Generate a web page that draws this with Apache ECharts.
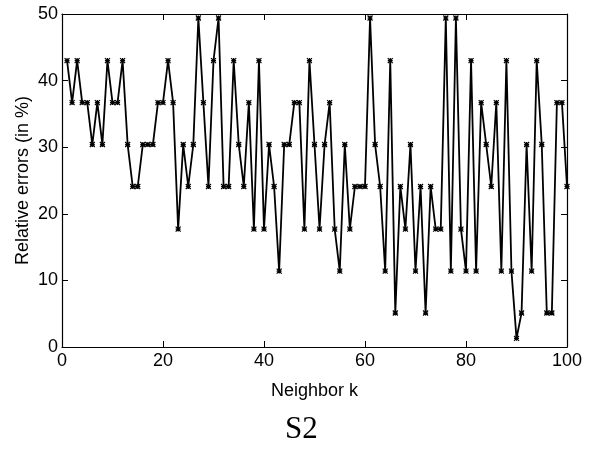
<!DOCTYPE html>
<html><head><meta charset="utf-8">
<script src="https://cdn.jsdelivr.net/npm/echarts@6/dist/echarts.min.js"></script>
<style>html,body{margin:0;padding:0;background:#fff}#c{width:595px;height:452px}</style>
</head><body><div id="c"></div>
<script>
// Neighbor index k
const neighborK = [1,2,3,4,5,6,7,8,9,10,11,12,13,14,15,16,17,18,19,20,
  21,22,23,24,25,26,27,28,29,30,31,32,33,34,35,36,37,38,39,40,
  41,42,43,44,45,46,47,48,49,50,51,52,53,54,55,56,57,58,59,60,
  61,62,63,64,65,66,67,68,69,70,71,72,73,74,75,76,77,78,79,80,
  81,82,83,84,85,86,87,88,89,90,91,92,93,94,95,96,97,98,99,100];
// Relative errors (in %)
const relErrors = [43.0,36.7,43.0,36.7,36.7,30.4,36.7,30.4,43.0,36.7,
  36.7,43.0,30.4,24.1,24.1,30.4,30.4,30.4,36.7,36.7,
  43.0,36.7,17.7,30.4,24.1,30.4,49.4,36.7,24.1,43.0,
  49.4,24.1,24.1,43.0,30.4,24.1,36.7,17.7,43.0,17.7,
  30.4,24.1,11.4,30.4,30.4,36.7,36.7,17.7,43.0,30.4,
  17.7,30.4,36.7,17.7,11.4,30.4,17.7,24.1,24.1,24.1,
  49.4,30.4,24.1,11.4,43.0,5.1,24.1,17.7,30.4,11.4,
  24.1,5.1,24.1,17.7,17.7,49.4,11.4,49.4,17.7,11.4,
  43.0,11.4,36.7,30.4,24.1,36.7,11.4,43.0,11.4,1.3,
  5.1,30.4,11.4,43.0,30.4,5.1,5.1,36.7,36.7,24.1];
const xTicks = [0,20,40,60,80,100];
const yTicks = [0,10,20,30,40,50];

const font = 'Liberation Sans';
const black = '#000';
const seriesData = neighborK.map((k,i)=>[k, relErrors[i]]);

function xAx(pos, labels){
  return {type:'value', position:pos, min:xTicks[0], max:xTicks[xTicks.length-1], interval:xTicks[1]-xTicks[0],
    axisLine:{show:true, onZero:false, lineStyle:{color:black,width:1.2}},
    axisTick:{show:true, inside:true, length:6, lineStyle:{color:black,width:1}},
    axisLabel:{show:labels, margin:5, color:black, fontSize:18, fontFamily:font},
    splitLine:{show:false},
    name: labels ? 'Neighbor k' : '', nameLocation:'middle', nameGap:35, nameMoveOverlap:false,
    nameTextStyle:{color:black, fontSize:18, fontFamily:font}};
}
function yAx(pos, labels){
  return {type:'value', position:pos, min:yTicks[0], max:yTicks[yTicks.length-1], interval:yTicks[1]-yTicks[0],
    axisLine:{show:true, onZero:false, lineStyle:{color:black,width:1.2}},
    axisTick:{show:true, inside:true, length:6, lineStyle:{color:black,width:1}},
    axisLabel:{show:labels, margin:4, color:black, fontSize:18, fontFamily:font, padding:[3,0,0,0]},
    splitLine:{show:false},
    name: labels ? 'Relative errors (in %)' : '', nameLocation:'middle', nameGap:30, nameRotate:90, nameMoveOverlap:false,
    nameTextStyle:{color:black, fontSize:18, fontFamily:font}};
}

const chart = echarts.init(document.getElementById('c'), null, {renderer:'canvas'});
chart.setOption({
  animation:false,
  backgroundColor:'#fff',
  grid:{left:62, right:28, top:14, bottom:105, containLabel:false},
  xAxis:[xAx('bottom',true), xAx('top',false)],
  yAxis:[yAx('left',true), yAx('right',false)],
  series:[{
    type:'line', xAxisIndex:0, yAxisIndex:0, data:seriesData,
    showAllSymbol:true,
    symbol:'path://M0,0L10,10M10,0L0,10M5,0L5,10M0,5L10,5',
    symbolSize:5,
    lineStyle:{color:black, width:1.8},
    itemStyle:{color:black, borderColor:black, borderWidth:1.2}
  }],
  graphic:[{type:'text', left:285, top:414,
    style:{text:'S2', font:'31px "Liberation Serif"', fill:black}}]
});
</script></body></html>
